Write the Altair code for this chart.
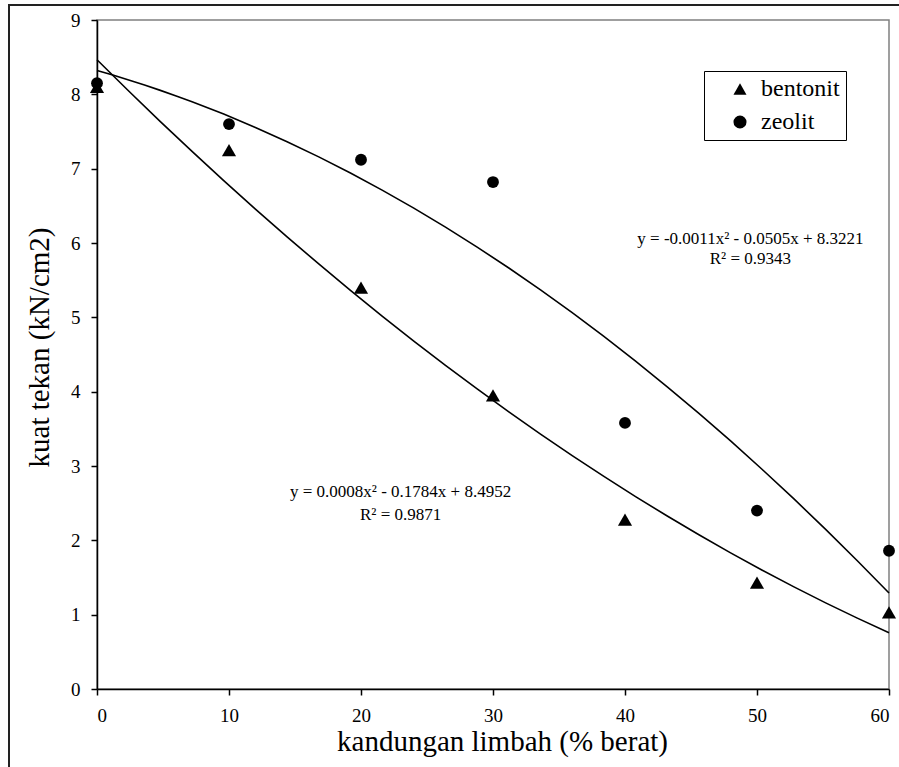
import altair as alt
import pandas as pd

# ---- data ----
kandungan = [0, 10, 20, 30, 40, 50, 60]
bentonit = [8.10, 7.25, 5.40, 3.95, 2.28, 1.43, 1.03]
zeolit = [8.15, 7.60, 7.12, 6.82, 3.58, 2.40, 1.86]
series_names = ["bentonit", "zeolit"]
x_ticks = [0, 10, 20, 30, 40, 50, 60]
y_ticks = [0, 1, 2, 3, 4, 5, 6, 7, 8, 9]

eq_texts = [
    "y = -0.0011x\u00b2 - 0.0505x + 8.3221",
    "R\u00b2 = 0.9343",
    "y = 0.0008x\u00b2 - 0.1784x + 8.4952",
    "R\u00b2 = 0.9871",
]
eq_x = [49.5, 49.5, 23.0, 23.0]
eq_y = [5.99, 5.72, 2.58, 2.28]

df = pd.DataFrame({
    "kandungan": kandungan * 2,
    "kuat": bentonit + zeolit,
    "bahan": [series_names[0]] * len(kandungan) + [series_names[1]] * len(kandungan),
})
ann = pd.DataFrame({"x": eq_x, "y": eq_y, "t": eq_texts})

FONT = "Liberation Serif"

xscale = alt.Scale(domain=[0, 60], nice=False, zero=False)
yscale = alt.Scale(domain=[0, 9], nice=False)
shape_scale = alt.Scale(domain=series_names, range=["triangle-up", "circle"])

xaxis = alt.Axis(
    values=x_ticks, format="d", title="kandungan limbah (% berat)", grid=False,
    titleX=405, titleY=61, titleAlign="center", titleBaseline="alphabetic",
    labelPadding=11, labelFont=FONT, labelFontSize=19,
)
yaxis = alt.Axis(
    values=y_ticks, format="d", title="kuat tekan (kN/cm2)", grid=False,
    titleAngle=270, titleX=-49, titleY=327, titleAlign="center",
    titleBaseline="alphabetic", labelPadding=11, labelFont=FONT, labelFontSize=19,
)

legend = alt.Legend(
    title=None, orient="none", legendX=607, legendY=51,
    fillColor="white", strokeColor="black", padding=6,
    symbolOffset=18, labelOffset=9, rowPadding=9,
    labelFont=FONT, labelFontSize=24, labelColor="black",
    symbolFillColor="black", symbolStrokeColor="black",
    symbolStrokeWidth=0, symbolSize=170,
)

tri = alt.Chart(df).transform_filter(
    alt.datum.bahan == series_names[0]
).mark_point(filled=True, color="black", opacity=1, size=200).encode(
    x=alt.X("kandungan:Q", scale=xscale, axis=xaxis),
    y=alt.Y("kuat:Q", scale=yscale, axis=yaxis),
    shape=alt.Shape("bahan:N", scale=shape_scale, legend=legend),
)

circ = alt.Chart(df).transform_filter(
    alt.datum.bahan == series_names[1]
).mark_point(filled=True, color="black", opacity=1, size=140).encode(
    x=alt.X("kandungan:Q", scale=xscale),
    y=alt.Y("kuat:Q", scale=yscale),
    shape=alt.Shape("bahan:N", scale=shape_scale, legend=legend),
)

trend = alt.Chart(df).transform_regression(
    "kandungan", "kuat", groupby=["bahan"], method="poly", order=2, extent=[0, 60]
).mark_line(color="black", strokeWidth=1.6).encode(
    x=alt.X("kandungan:Q", scale=xscale),
    y=alt.Y("kuat:Q", scale=yscale),
    detail="bahan:N",
)

texts = alt.Chart(ann).mark_text(
    font=FONT, fontSize=17, color="black", align="center", baseline="alphabetic"
).encode(
    x=alt.X("x:Q", scale=xscale),
    y=alt.Y("y:Q", scale=yscale),
    text="t:N",
)

frame = alt.Chart(ann).mark_rect(
    fill=None, stroke="#222222", strokeWidth=2
).encode(
    x=alt.value(-88), x2=alt.value(905), y=alt.value(-15), y2=alt.value(800)
)

chart = alt.layer(frame, trend, tri, circ, texts).properties(
    width=792, height=669,
    autosize=alt.AutoSizeParams(type="none"),
    padding={"left": 97, "top": 20, "right": 10, "bottom": 78},
    background="white",
).configure(
    font=FONT
).configure_view(
    stroke="#808080", strokeWidth=1.5
).configure_axis(
    domainColor="black", domainWidth=1.5, tickColor="black", tickWidth=1.5,
    tickSize=6, labelFont=FONT, labelFontSize=19, labelColor="black",
    titleFont=FONT, titleFontSize=29, titleFontWeight="normal", titleColor="black",
).configure_legend(
    labelFont=FONT, labelFontSize=24, labelColor="black",
)

chart.save("out.html", embed_options={"renderer": "svg", "actions": False})
